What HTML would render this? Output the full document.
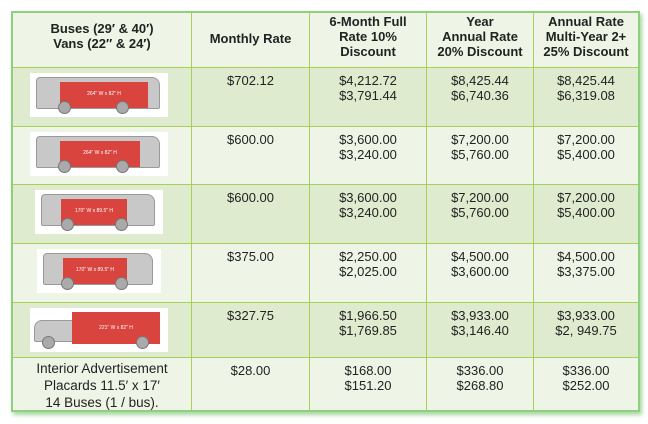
<!DOCTYPE html>
<html><head><style>
*{margin:0;padding:0;box-sizing:border-box}
body{width:648px;height:424px;background:#fff;position:relative;overflow:hidden;font-family:"Liberation Sans",sans-serif;color:#222}
.t{position:absolute;left:11px;top:11px;width:629px;height:401px;border:2px solid #8fcf7f;box-shadow:2px 3px 4px #a8d8a0;background:#eef5e6}
.r{position:absolute;left:0;width:625px}
.c{position:absolute;top:0;height:100%;text-align:center;font-size:13px;line-height:15px;border-left:1px solid #a6d056;border-top:1px solid #a6d056}
.r .c{padding-top:5px !important}
.r.hd .c{}
.h{font-weight:bold}
.img{position:absolute;left:17px;top:5px;width:138px;height:44px;background:#fff}
.bus{position:absolute;left:6px;top:4px;width:124px;height:32px;background:#c8c8c8;border:1px solid #999;border-radius:4px 8px 2px 2px}
.red{position:absolute;background:#d9443e;color:#fff;font-size:5px;text-align:center;line-height:24px}
.w{position:absolute;width:13px;height:13px;border-radius:50%;background:#aaa;border:1px solid #777;bottom:0}
</style></head><body>
<div class="t">
<div style="position:absolute;left:0;top:0;width:625px;height:54px;background:#eef5e6">
<div class="c h" style="left:0;width:178px;border-left:none;border-top:none;padding-top:8px">Buses (29′ &amp; 40′)<br>Vans (22″ &amp; 24′)</div>
<div class="c h" style="left:178px;width:118px;border-top:none;padding-top:18px">Monthly Rate</div>
<div class="c h" style="left:296px;width:117px;border-top:none;padding-top:1px">6-Month Full<br>Rate 10%<br>Discount</div>
<div class="c h" style="left:413px;width:107px;border-top:none;padding-top:1px">Year<br>Annual Rate<br>20% Discount</div>
<div class="c h" style="left:520px;width:105px;border-top:none;padding-top:1px">Annual Rate<br>Multi-Year 2+<br>25% Discount</div>
</div>
<div class="r" style="top:54px;height:59px;background:#dfebcf">
<div class="c" style="left:0;width:178px;border-left:none"><div class="img"><div class="bus"></div><div class="red" style="left:30px;top:9px;width:88px;height:26px">264" W x 82" H</div><div class="w" style="left:28px;bottom:3px"></div><div class="w" style="left:86px;bottom:3px"></div></div></div>
<div class="c" style="left:178px;width:118px">$702.12</div>
<div class="c" style="left:296px;width:117px">$4,212.72<br>$3,791.44</div>
<div class="c" style="left:413px;width:107px">$8,425.44<br>$6,740.36</div>
<div class="c" style="left:520px;width:105px">$8,425.44<br>$6,319.08</div>
</div>
<div class="r" style="top:113px;height:58px;background:#eef5e6">
<div class="c" style="left:0;width:178px;border-left:none"><div class="img"><div class="bus"></div><div class="red" style="left:30px;top:9px;width:80px;height:26px">264" W x 82" H</div><div class="w" style="left:28px;bottom:3px"></div><div class="w" style="left:86px;bottom:3px"></div></div></div>
<div class="c" style="left:178px;width:118px">$600.00</div>
<div class="c" style="left:296px;width:117px">$3,600.00<br>$3,240.00</div>
<div class="c" style="left:413px;width:107px">$7,200.00<br>$5,760.00</div>
<div class="c" style="left:520px;width:105px">$7,200.00<br>$5,400.00</div>
</div>
<div class="r" style="top:171px;height:59px;background:#dfebcf">
<div class="c" style="left:0;width:178px;border-left:none"><div class="img" style="left:22px;width:128px"><div class="bus" style="width:114px"></div><div class="red" style="left:26px;top:9px;width:66px;height:26px">170" W x 89.5" H</div><div class="w" style="left:26px;bottom:3px"></div><div class="w" style="left:80px;bottom:3px"></div></div></div>
<div class="c" style="left:178px;width:118px">$600.00</div>
<div class="c" style="left:296px;width:117px">$3,600.00<br>$3,240.00</div>
<div class="c" style="left:413px;width:107px">$7,200.00<br>$5,760.00</div>
<div class="c" style="left:520px;width:105px">$7,200.00<br>$5,400.00</div>
</div>
<div class="r" style="top:230px;height:59px;background:#eef5e6">
<div class="c" style="left:0;width:178px;border-left:none"><div class="img" style="left:24px;width:124px"><div class="bus" style="width:110px"></div><div class="red" style="left:26px;top:9px;width:64px;height:26px">170" W x 89.5" H</div><div class="w" style="left:24px;bottom:3px"></div><div class="w" style="left:78px;bottom:3px"></div></div></div>
<div class="c" style="left:178px;width:118px">$375.00</div>
<div class="c" style="left:296px;width:117px">$2,250.00<br>$2,025.00</div>
<div class="c" style="left:413px;width:107px">$4,500.00<br>$3,600.00</div>
<div class="c" style="left:520px;width:105px">$4,500.00<br>$3,375.00</div>
</div>
<div class="r" style="top:289px;height:55px;background:#dfebcf">
<div class="c" style="left:0;width:178px;border-left:none"><div class="img"><div class="bus" style="left:4px;top:12px;width:40px;height:22px;border-radius:8px 2px 2px 2px"></div><div class="red" style="left:42px;top:4px;width:88px;height:32px;line-height:32px">221" W x 82" H</div><div class="w" style="left:12px;bottom:3px"></div><div class="w" style="left:106px;bottom:3px"></div></div></div>
<div class="c" style="left:178px;width:118px">$327.75</div>
<div class="c" style="left:296px;width:117px">$1,966.50<br>$1,769.85</div>
<div class="c" style="left:413px;width:107px">$3,933.00<br>$3,146.40</div>
<div class="c" style="left:520px;width:105px">$3,933.00<br>$2, 949.75</div>
</div>
<div class="r" style="top:344px;height:53px;background:#eef5e6">
<div class="c" style="left:0;width:178px;border-left:none;font-size:13.5px;line-height:17px;padding-top:2px !important">Interior Advertisement<br>Placards 11.5′ x 17′<br>14 Buses (1 / bus).</div>
<div class="c" style="left:178px;width:118px">$28.00</div>
<div class="c" style="left:296px;width:117px">$168.00<br>$151.20</div>
<div class="c" style="left:413px;width:107px">$336.00<br>$268.80</div>
<div class="c" style="left:520px;width:105px">$336.00<br>$252.00</div>
</div>
</div>
</body></html>
